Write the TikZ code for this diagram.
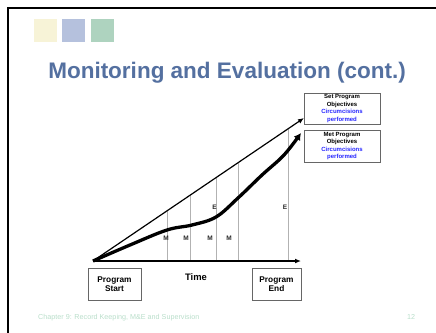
\documentclass[tikz,border=0pt]{standalone}
\usepackage{fontspec}
\setmainfont{Liberation Sans}
\usetikzlibrary{arrows.meta}
\definecolor{titleblue}{RGB}{84,112,160}
\definecolor{sqyellow}{RGB}{247,243,215}
\definecolor{sqblue}{RGB}{181,193,221}
\definecolor{sqgreen}{RGB}{174,211,191}
\definecolor{footgreen}{RGB}{185,222,202}
\definecolor{txtblue}{RGB}{40,40,255}
\begin{document}
\begin{tikzpicture}[x=1pt,y=-1pt,
  infobox/.style={draw=black!60, line width=0.7pt, fill=white, align=center, inner sep=1pt,
    font=\bfseries\fontsize{6}{7.4}\selectfont},
  endbox/.style={draw=black!60, line width=0.7pt, fill=white, align=center, inner sep=1pt,
    minimum height=32pt, font=\bfseries\fontsize{8.3}{9.2}\selectfont},
  lab/.style={font=\bfseries\fontsize{6.5}{7}\selectfont, text=black!85, inner sep=0pt},
  guide/.style={draw=black!30, line width=0.5pt},
  thinarrow/.style={line width=1.2pt, -{Latex[length=6pt,width=5pt]}},
  thickarrow/.style={line width=3.3pt, -{Latex[length=7pt,width=8pt]}}
]
\useasboundingbox (0,0) rectangle (436,332);
% frame
\draw[line width=2.3pt] (7.8,340) -- (7.8,7.8) -- (445,7.8);
% squares
\fill[sqyellow] (34,19) rectangle (57,42);
\fill[sqblue] (62,19) rectangle (85,42);
\fill[sqgreen] (91,19) rectangle (114,42);
% title
\node[anchor=base, text=titleblue, font=\bfseries\fontsize{22.5}{26}\selectfont, inner sep=0pt] (title) at (227,78) {Monitoring and Evaluation (cont.)};
% boxes
\node[infobox, minimum width=76pt, minimum height=31pt] (setobj) at (342,108.5)
  {Set Program\\Objectives\\\textcolor{txtblue}{Circumcisions}\\\textcolor{txtblue}{performed}};
\node[infobox, minimum width=76pt, minimum height=32pt] (metobj) at (342,146)
  {Met Program\\Objectives\\\textcolor{txtblue}{Circumcisions}\\\textcolor{txtblue}{performed}};
\node[endbox, minimum width=53pt] (start) at (114.5,284) {Program\\Start};
\node[endbox, minimum width=49pt] (end) at (276.5,284) {Program\\End};
\node[font=\bfseries\fontsize{9.4}{10}\selectfont, inner sep=0pt] (time) at (196,277) {Time};
% coordinates
\coordinate (O) at (93,261);
\coordinate (AxEnd) at (301,261);
\coordinate (T1) at (304,118);
\coordinate (T2) at (301,133);
% guide lines
\draw[guide] (167,261) -- (167,210.8);
\draw[guide] (190,261) -- (190,195.3);
\draw[guide] (216,261) -- (216,177.6);
\draw[guide] (238,261) -- (238,162.7);
\draw[guide] (288,261) -- (288,128.8);
% axis and arrows
\draw[thinarrow] (O) -- (AxEnd);
\draw[thinarrow] (O) -- (T1);
\draw[thickarrow] plot[smooth, tension=0.6] coordinates {(93,261) (130,245) (167,230) (192,225) (216,217) (238,198) (262,175) (284,155) (T2)};
% labels
\node[lab] (m1) at (166,238) {M};
\node[lab] (m2) at (186,238) {M};
\node[lab] (m3) at (210,238) {M};
\node[lab] (m4) at (229,238) {M};
\node[lab] (e1) at (214.5,207) {E};
\node[lab] (e2) at (285,207) {E};
% footer
\node[anchor=base west, text=footgreen, font=\fontsize{7.2}{8}\selectfont, inner sep=0pt] (foot) at (38,319) {Chapter 9: Record Keeping, M\&E and Supervision};
\node[anchor=base, text=footgreen, font=\fontsize{7.2}{8}\selectfont, inner sep=0pt] (page) at (411,319) {12};
\end{tikzpicture}
\end{document}
